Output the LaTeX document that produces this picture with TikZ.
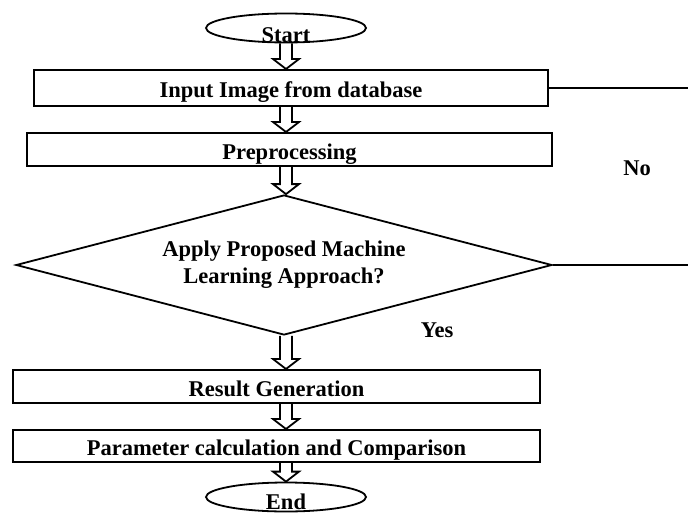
\documentclass[tikz,border=0pt]{standalone}
\usepackage{fontspec}
\setmainfont{Liberation Serif}
\usetikzlibrary{shapes.geometric,calc}

\tikzset{
  txt/.style={font=\bfseries\fontsize{22.5}{27}\selectfont},
  procbox/.style={txt,draw,line width=2pt,rectangle,inner sep=0pt,text height=19pt,text depth=0pt},
  term/.style={txt,draw,line width=1.8pt,ellipse,inner sep=0pt,minimum width=160pt,minimum height=29pt},
  decide/.style={txt,draw,line width=1.8pt,diamond,aspect=3.83,inner sep=0pt,align=center,minimum width=536pt,minimum height=140pt},
}

\newcommand{\hollowarrow}[2]{%
\draw[line width=1.8pt,line join=miter] let \p0=(start.south),\p1=(#1.south),\p2=(#2.north) in
 (\x0-6pt,\y1)--(\x0-6pt,\y2+10pt)--(\x0-13pt,\y2+10pt)--(\x0,\y2)--(\x0+13pt,\y2+10pt)--(\x0+6pt,\y2+10pt)--(\x0+6pt,\y1);}

\begin{document}
\begin{tikzpicture}[x=1pt,y=-1pt]
\useasboundingbox (0,0) rectangle (688,514);

\node[term](start) at(286,28){\raisebox{-14pt}[0pt][0pt]{Start}};
\node[procbox,minimum width=514pt,minimum height=36pt](input) at(291,88){Input Image from database};
\node[procbox,minimum width=525pt,minimum height=33pt](prep) at(289.5,149.5){Preprocessing};
\node[decide](apply) at(284,265){Apply Proposed Machine\\Learning Approach?};
\node[procbox,minimum width=527pt,minimum height=33pt](result) at(276.5,386.5){Result Generation};
\node[procbox,minimum width=527pt,minimum height=32pt](param) at(276.5,446){Parameter calculation and Comparison};
\node[term](stop) at(286,497){\raisebox{-12pt}[0pt][0pt]{End}};

\coordinate(noin) at(688,88);
\coordinate(noapply) at(688,265);
\node[txt](no) at(637,168){No};
\node[txt](yes) at(437,330){Yes};

\hollowarrow{start}{input}
\hollowarrow{input}{prep}
\hollowarrow{prep}{apply}
\hollowarrow{apply}{result}
\hollowarrow{result}{param}
\hollowarrow{param}{stop}

\draw[line width=1.8pt](input.east)--(noin);
\draw[line width=1.8pt](apply.east)--(noapply);

\end{tikzpicture}
\end{document}
